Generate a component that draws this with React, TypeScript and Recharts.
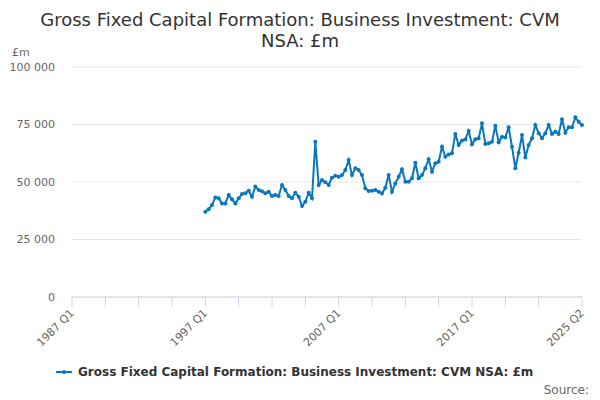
import React from "react";
import { LineChart, Line, XAxis, YAxis, CartesianGrid } from "recharts";

const TITLE_LINES = ["Gross Fixed Capital Formation: Business Investment: CVM", "NSA: £m"];
const SERIES_NAME = "Gross Fixed Capital Formation: Business Investment: CVM NSA: £m";
const UNIT = "£m";
const SOURCE = "Source:";

const FIRST_YEAR = 1987;
const LAST_LABEL = "2025 Q2";
const DATA_START = "1997 Q1";

// £m, quarterly from 1997 Q1 to 2025 Q2
const investment = [
  37100, 38100, 40000, 43300, 42900, 40700, 40700, 44300, 42500, 40700,
  42900, 44800, 45100, 46200, 43600, 48000, 46500, 46000, 45100, 45800,
  43900, 44300, 43900, 48700, 46500, 43900, 42900, 45300, 43600, 39600,
  41400, 45300, 42900, 67500, 48700, 50900, 49900, 48700, 51900, 52700,
  52300, 53000, 55200, 59600, 53000, 56000, 55200, 53000, 47300, 46100,
  46200, 46500, 45800, 45000, 47500, 53000, 45800, 49400, 52300, 55500,
  50100, 50100, 51600, 58400, 51600, 53000, 56000, 59900, 54500, 58100,
  58800, 65300, 61000, 62000, 62500, 70900, 66100, 68000, 68500, 72200,
  66400, 68600, 69000, 75500, 66500, 66800, 67500, 74500, 67300, 69700,
  69400, 73800, 65300, 56000, 62700, 70400, 60700, 66100, 69000, 74800,
  71200, 69000, 71200, 74800, 70900, 71900, 70900, 77300, 71400, 73800,
  73800, 78100, 76200, 74800,
];

const yTicks = [0, 25000, 50000, 75000, 100000];
const labelledTicks = ["1987 Q1", "1997 Q1", "2007 Q1", "2017 Q1", "2025 Q2"];

const quarters: string[] = [];
for (let y = FIRST_YEAR; ; y++) {
  let done = false;
  for (let q = 1; q <= 4; q++) {
    const lbl = `${y} Q${q}`;
    quarters.push(lbl);
    if (lbl === LAST_LABEL) {
      done = true;
      break;
    }
  }
  if (done) break;
}

const startIdx = quarters.indexOf(DATA_START);
const data = quarters.map((label, i) => ({
  label,
  value: i >= startIdx ? investment[i - startIdx] ?? null : null,
}));

// tick marks every 10 quarters plus the last one
const xTicks = quarters.filter((_, i) => i % 10 === 0 && i < quarters.length - 5).concat(LAST_LABEL);

const BLUE = "#0a76bd";
const FONT = "'DejaVu Sans', sans-serif";

const fmt = (v: number) => String(v).replace(/\B(?=(\d{3})+(?!\d))/g, " ");

const XTick = (props: any) => {
  const { x, y, payload } = props;
  if (!labelledTicks.includes(payload.value)) return <g />;
  return (
    <text
      x={x}
      y={y}
      dy="0.35em"
      textAnchor="end"
      transform={`rotate(-45 ${x} ${y})`}
      fontSize={11}
      fill="#666"
      fontFamily={FONT}
    >
      {payload.value}
    </text>
  );
};

export default function App() {
  return (
    <div style={{ position: "absolute", left: 0, top: 0, width: 600, height: 400, fontFamily: FONT, background: "#fff" }}>
      <div
        style={{
          position: "absolute",
          top: 9,
          left: 0,
          width: 600,
          textAlign: "center",
          fontSize: 18,
          lineHeight: "21px",
          color: "#333",
        }}
      >
        {TITLE_LINES.map((t) => (
          <div key={t}>{t}</div>
        ))}
      </div>
      <div style={{ position: "absolute", left: 12, top: 46, fontSize: 11, color: "#666" }}>{UNIT}</div>
      <LineChart width={600} height={400} data={data} margin={{ top: 67, right: 18, bottom: 73, left: 0 }}>
        <CartesianGrid vertical={false} stroke="#e6e6e6" />
        <XAxis
          dataKey="label"
          ticks={xTicks}
          interval={0}
          tick={<XTick />}
          tickSize={10}
          tickMargin={4}
          stroke="#ccd6eb"
          tickLine={{ stroke: "#ccd6eb" }}
          axisLine={{ stroke: "#ccd6eb" }}
        />
        <YAxis
          domain={[0, 100000]}
          ticks={yTicks}
          width={72}
          tickLine={false}
          axisLine={false}
          tickSize={0}
          tickMargin={17}
          tickFormatter={fmt}
          tick={{ fontSize: 11, fill: "#666", fontFamily: FONT }}
        />
        <Line
          dataKey="value"
          stroke={BLUE}
          strokeWidth={2}
          dot={{ r: 2, fill: BLUE, stroke: BLUE, strokeWidth: 0 }}
          activeDot={false}
          isAnimationActive={false}
        />
      </LineChart>
      <div
        style={{
          position: "absolute",
          top: 365,
          left: 56,
          display: "flex",
          alignItems: "center",
          fontSize: 12,
          fontWeight: "bold",
          color: "#333",
        }}
      >
        <svg width={16} height={10} style={{ marginRight: 6 }}>
          <line x1={0} y1={5} x2={16} y2={5} stroke={BLUE} strokeWidth={2} />
          <circle cx={8} cy={5} r={2} fill={BLUE} />
        </svg>
        <span>{SERIES_NAME}</span>
      </div>
      <div style={{ position: "absolute", right: 11, top: 383, fontSize: 12, color: "#666" }}>{SOURCE}</div>
    </div>
  );
}
